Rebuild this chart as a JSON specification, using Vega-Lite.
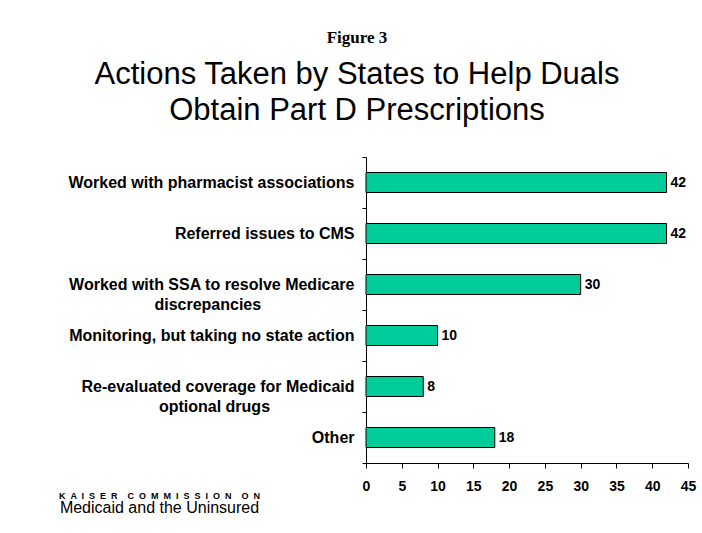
{
  "$schema": "https://vega.github.io/schema/vega-lite/v6.json",
  "width": 322,
  "height": 306,
  "autosize": {"type": "none"},
  "padding": {"left": 366, "top": 157, "right": 14, "bottom": 70},
  "background": "white",
  "title": {
    "text": "Figure 3",
    "subtitle": ["Actions Taken by States to Help Duals", "Obtain Part D Prescriptions"],
    "anchor": "middle",
    "dx": -170,
    "font": "Liberation Serif",
    "fontSize": 17,
    "fontWeight": "bold",
    "color": "black",
    "subtitleFont": "Liberation Sans",
    "subtitleFontSize": 31,
    "subtitleColor": "black",
    "subtitleLineHeight": 36,
    "subtitlePadding": 13,
    "offset": 22
  },
  "data": {
    "values": [
      {"action": "Worked with pharmacist associations", "count": 42},
      {"action": "Referred issues to CMS", "count": 42},
      {"action": "Worked with SSA to resolve Medicare discrepancies", "count": 30},
      {"action": "Monitoring, but taking no state action", "count": 10},
      {"action": "Re-evaluated coverage for Medicaid optional drugs", "count": 8},
      {"action": "Other", "count": 18}
    ]
  },
  "encoding": {
    "y": {
      "field": "action",
      "type": "nominal",
      "sort": null,
      "scale": {"paddingInner": 0, "paddingOuter": 0},
      "axis": {
        "title": "K \u00a0A \u00a0I \u00a0S \u00a0E \u00a0R \u00a0 \u00a0C \u00a0O \u00a0M \u00a0M \u00a0I \u00a0S \u00a0S \u00a0I \u00a0O \u00a0N \u00a0 \u00a0O \u00a0N",
        "titleAngle": 0,
        "titleX": -207,
        "titleY": 338,
        "titleAlign": "center",
        "titleBaseline": "middle",
        "titleFont": "Liberation Sans",
        "titleFontSize": 9,
        "titleFontWeight": "bold",
        "titleColor": "black",
        "labelFont": "Liberation Sans",
        "labelFontSize": 16,
        "labelFontWeight": "bold",
        "labelColor": "black",
        "labelLimit": 400,
        "labelLineHeight": 20,
        "labelExpr": "datum.value == 'Worked with SSA to resolve Medicare discrepancies' ? ['Worked with SSA to resolve Medicare', 'discrepancies\u00a0\u00a0\u00a0\u00a0\u00a0\u00a0\u00a0\u00a0\u00a0\u00a0\u00a0\u00a0\u00a0\u00a0\u00a0\u00a0\u00a0\u00a0\u00a0\u00a0\u00a0\u200b'] : datum.value == 'Re-evaluated coverage for Medicaid optional drugs' ? ['Re-evaluated coverage for Medicaid', 'optional drugs\u00a0\u00a0\u00a0\u00a0\u00a0\u00a0\u00a0\u00a0\u00a0\u00a0\u00a0\u00a0\u00a0\u00a0\u00a0\u00a0\u00a0\u00a0\u00a0\u200b'] : datum.label",
        "labelPadding": 8,
        "tickBand": "extent",
        "tickSize": 4,
        "tickColor": "black",
        "domainColor": "black"
      }
    },
    "x": {
      "field": "count",
      "type": "quantitative",
      "scale": {"domain": [0, 45], "nice": false},
      "axis": {
        "values": [0, 5, 10, 15, 20, 25, 30, 35, 40, 45],
        "title": "Medicaid and the Uninsured",
        "titleX": -207,
        "titleY": 44,
        "titleAlign": "center",
        "titleBaseline": "middle",
        "titleFont": "Liberation Sans",
        "titleFontSize": 16,
        "titleFontWeight": "normal",
        "titleColor": "black",
        "labelFont": "Liberation Sans",
        "labelFontSize": 14,
        "labelFontWeight": "bold",
        "labelColor": "black",
        "labelPadding": 11,
        "labelFlush": false,
        "tickSize": 5,
        "tickColor": "black",
        "domainColor": "black",
        "grid": false
      }
    }
  },
  "layer": [
    {"mark": {"type": "bar", "size": 20, "fill": "#00CC99", "stroke": "black", "strokeWidth": 1}},
    {
      "mark": {"type": "text", "align": "left", "baseline": "middle", "dx": 4, "font": "Liberation Sans", "fontSize": 14, "fontWeight": "bold", "color": "black"},
      "encoding": {"text": {"field": "count", "type": "quantitative"}}
    }
  ],
  "config": {"view": {"stroke": null}}
}
